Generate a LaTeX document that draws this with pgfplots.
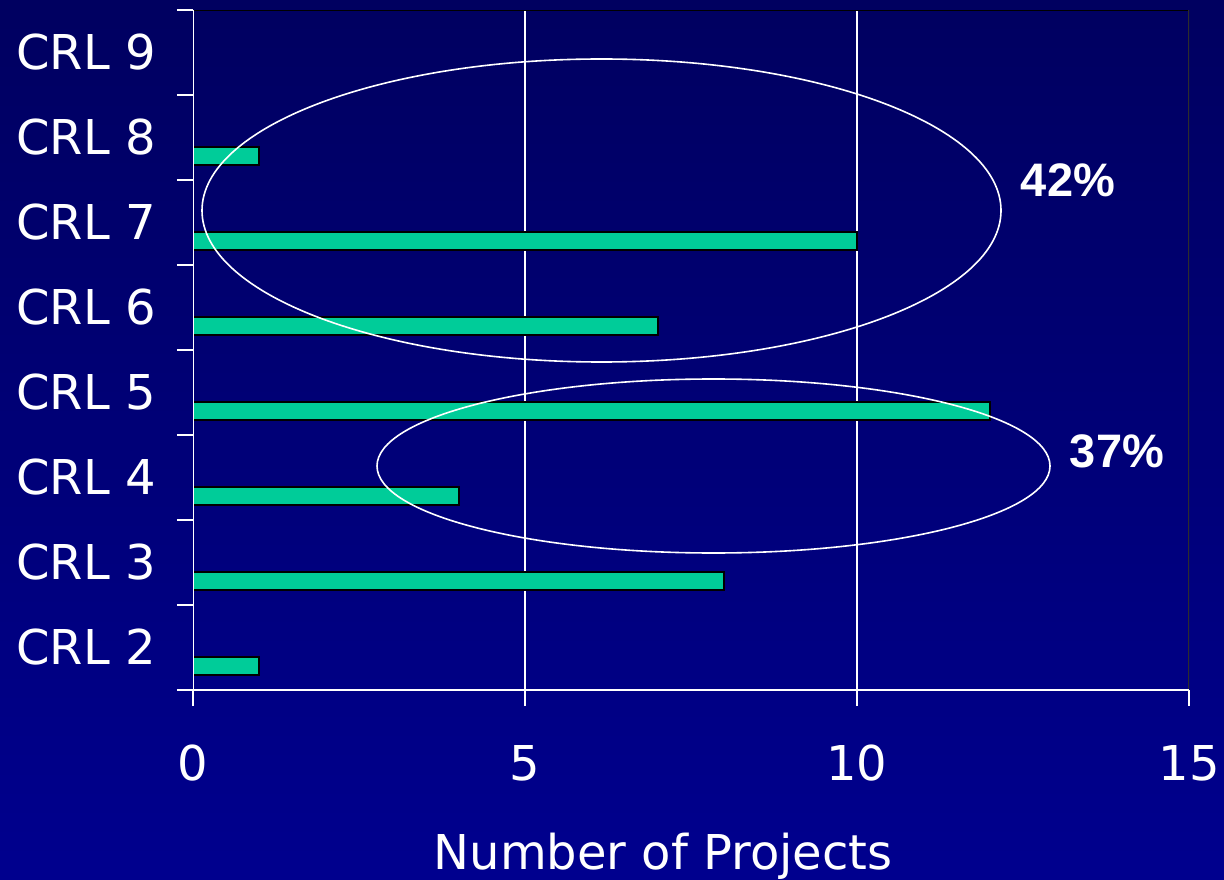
\documentclass[border=0pt]{standalone}
\usepackage{pgfplots}
\pgfplotsset{compat=1.18}
\usepackage{fontspec}
\setmainfont{DejaVu Sans}
\newfontfamily\pctfont{Liberation Sans}
\definecolor{bgtop}{RGB}{0,0,96}
\definecolor{bgbot}{RGB}{0,0,142}
\definecolor{barfill}{RGB}{0,204,153}
\definecolor{rimgray}{RGB}{45,45,45}
\begin{document}
\begin{tikzpicture}
% slide background
\shade[top color=bgtop, bottom color=bgbot] (0pt,0pt) rectangle (612pt,439.5pt);
\begin{axis}[
  at={(96.5pt,94.5pt)}, anchor=south west,
  scale only axis, width=498pt, height=340pt,
  xmin=0, xmax=15, ymin=1.5, ymax=9.5,
  xbar, bar width=8.75pt, bar shift=-9.35pt,
  axis line style={draw=none},
  tick align=outside, xtick pos=bottom, ytick pos=left,
  major tick length=8pt,
  tick style={white, line width=0.75pt},
  xtick={0,5,10,15},
  % vertical grid only at the inner ticks
  extra x ticks={5,10}, extra x tick labels={},
  extra x tick style={grid=major, major tick length=0pt},
  major grid style={white, line width=0.75pt},
  ytick={1.5,2.5,3.5,4.5,5.5,6.5,7.5,8.5,9.5},
  yticklabels={},
  extra y ticks={2,3,4,5,6,7,8,9},
  extra y tick labels={CRL 2,CRL 3,CRL 4,CRL 5,CRL 6,CRL 7,CRL 8,CRL 9},
  extra y tick style={major tick length=0pt,
    yticklabel style={anchor=west, inner sep=0pt, xshift=-88.5pt}},
  ticklabel style={font=\fontsize{24}{28}\selectfont, color=white},
  xticklabel style={anchor=base, inner sep=0pt, yshift=-37pt},
  /pgf/number format/assume math mode=true,
  xlabel={Number of Projects},
  xlabel style={at={(rel axis cs:0.472,0)}, anchor=base, inner sep=0pt,
    yshift=-89.5pt, font=\fontsize{24}{28}\selectfont, color=white},
]
\addplot[fill=barfill, draw=black, line width=1pt]
  coordinates {(1,2) (8,3) (4,4) (12,5) (7,6) (10,7) (1,8) (0,9)};
% frame: white left and bottom, dark top and right
\draw[black, line width=1pt] (rel axis cs:0,1) -- (rel axis cs:1,1);
\draw[rimgray, line width=1.1pt] (rel axis cs:1,0) -- (rel axis cs:1,1);
\draw[white, line width=0.75pt] (rel axis cs:0,1) -- (rel axis cs:0,0) -- (rel axis cs:1,0);
\end{axis}
% groupings
\draw[white, line width=0.8pt] (300.75pt,334.25pt) ellipse [x radius=199.75pt, y radius=75.75pt];
\draw[white, line width=0.8pt] (356.75pt,206.5pt) ellipse [x radius=168.25pt, y radius=43.5pt];
\node[white, font=\pctfont\bfseries\fontsize{23.5}{28}\selectfont] at (534pt,349.5pt) {42\%};
\node[white, font=\pctfont\bfseries\fontsize{23.5}{28}\selectfont] at (558.5pt,214pt) {37\%};
\end{tikzpicture}
\end{document}
